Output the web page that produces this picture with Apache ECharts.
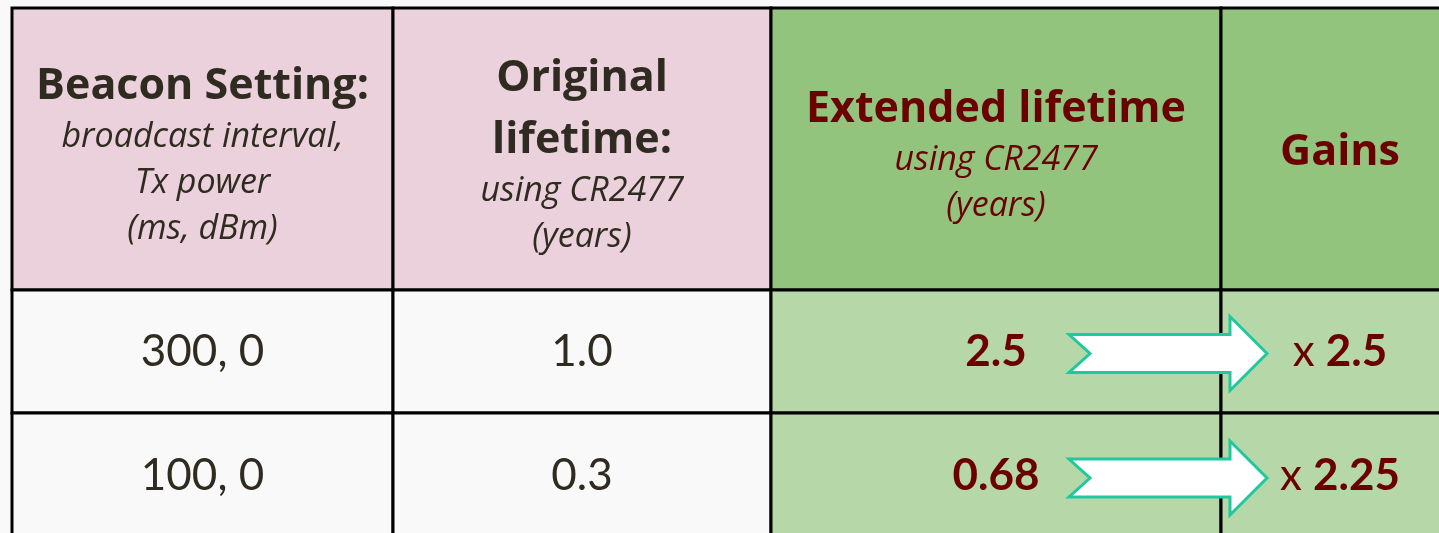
<!DOCTYPE html>
<html><head><meta charset="utf-8">
<script src="https://cdn.jsdelivr.net/npm/echarts@6/dist/echarts.min.js"></script>
<style>html,body{margin:0;padding:0;background:#f9f9f9;}#c{width:1439px;height:533px;}</style>
</head><body><div id="c"></div>
<script>
// ---- data ----
const headerTitles = ['Beacon Setting:', 'Original\nlifetime:', 'Extended lifetime', 'Gains'];
const headerSubtitles = ['broadcast interval,\nTx power\n(ms, dBm)', 'using CR2477\n(years)', 'using CR2477\n(years)', ''];
const beaconSettings = ['300, 0', '100, 0'];
const originalLifetime = [1.0, 0.3];
const extendedLifetime = [2.5, 0.68];
const gains = [2.5, 2.25];

// ---- layout / style ----
const W = 1439, H = 533;
const colEdges = [12, 393, 771, 1221, 1459];
const rowEdges = [8, 290, 413, 539];
const FONT = 'Lato, "Open Sans", sans-serif';
const HFONT = '"Open Sans", Lato, sans-serif';
const DARK = '#2f2b20', RED = '#6b0000';
const headFill = ['#ead1dc', '#ead1dc', '#93c47d', '#93c47d'];
const bodyFill = ['#f9f9f9', '#f9f9f9', '#b6d7a8', '#b6d7a8'];
const textColor = [DARK, DARK, RED, RED];

const cellData = [];
for (let r = 0; r < rowEdges.length - 1; r++)
  for (let c = 0; c < colEdges.length - 1; c++) cellData.push([c, r]);

function cellText(c, r) {
  const i = r - 1;
  if (c === 0) return { text: beaconSettings[i], font: '400 44px ' + FONT, fill: DARK };
  if (c === 1) return { text: originalLifetime[i].toFixed(1), font: '400 44px ' + FONT, fill: DARK };
  if (c === 2) return { text: String(extendedLifetime[i]), font: '700 44px ' + FONT, fill: RED };
  return {
    text: '{a|x }{b|' + String(gains[i]) + '}',
    rich: { a: { font: '400 44px ' + FONT, fill: RED, color: RED }, b: { font: '700 44px ' + FONT, fill: RED, color: RED } }
  };
}

function renderCell(params, api) {
  const c = api.value(0), r = api.value(1);
  const p0 = api.coord([colEdges[c], rowEdges[r]]);
  const p1 = api.coord([colEdges[c + 1], rowEdges[r + 1]]);
  const cx = (p0[0] + p1[0]) / 2, cy = (p0[1] + p1[1]) / 2;
  const children = [{
    type: 'rect', z2: 0,
    shape: { x: p0[0], y: p0[1], width: p1[0] - p0[0], height: p1[1] - p0[1] },
    style: { fill: r === 0 ? headFill[c] : bodyFill[c], stroke: '#000', lineWidth: 3 }
  }];
  if (r === 0) {
    const tl = headerTitles[c].split('\n');
    const sl = headerSubtitles[c] ? headerSubtitles[c].split('\n') : [];
    const lines = [];
    let y = 0;
    tl.forEach((t, k) => { if (k > 0) y += 62; lines.push({ t, y, sub: false }); });
    sl.forEach((t, k) => { y += (k === 0 ? 51 : 46); lines.push({ t, y, sub: true }); });
    const center = cy + (lines.length > 1 ? 9 : 4);
    const start = center - y / 2;
    lines.forEach(L => {
      children.push({
        type: 'text', z2: 10,
        style: {
          text: L.t, x: cx, y: start + L.y, align: 'center', verticalAlign: 'middle',
          font: L.sub ? 'italic 400 34px ' + HFONT : '700 43px ' + HFONT,
          fill: textColor[c]
        }
      });
    });
  } else {
    const st = cellText(c, r);
    children.push({
      type: 'text', z2: 10,
      style: Object.assign({ x: cx, y: cy, align: 'center', verticalAlign: 'middle' }, st)
    });
  }
  return { type: 'group', children };
}

// arrows from extended lifetime into gains column
const arrowData = gains.map((g, i) => [i + 1, g]);
function renderArrow(params, api) {
  const r = api.value(0);
  const bx = colEdges[3];
  const cyv = (rowEdges[r] + rowEdges[r + 1]) / 2 + 2;
  const rel = [[-152, -19], [9, -19], [9, -37], [46, 0], [9, 37], [9, 19], [-152, 19], [-131, 0]];
  const pts = rel.map(d => api.coord([bx + d[0], cyv + d[1]]));
  return {
    type: 'polygon', z2: 20,
    shape: { points: pts },
    style: { fill: '#ffffff', stroke: '#1fc99d', lineWidth: 3, lineJoin: 'miter' }
  };
}

const chart = echarts.init(document.getElementById('c'), null, { renderer: 'canvas' });
chart.setOption({
  backgroundColor: '#f9f9f9',
  animation: false,
  grid: { left: 0, right: 0, top: 0, bottom: 0 },
  xAxis: { type: 'value', min: 0, max: W, show: false },
  yAxis: { type: 'value', min: 0, max: H, inverse: true, show: false },
  series: [
    { type: 'custom', renderItem: renderCell, data: cellData, clip: false, z: 1 },
    { type: 'custom', renderItem: renderArrow, data: arrowData, clip: false, z: 2 }
  ]
});
</script>
</body></html>
